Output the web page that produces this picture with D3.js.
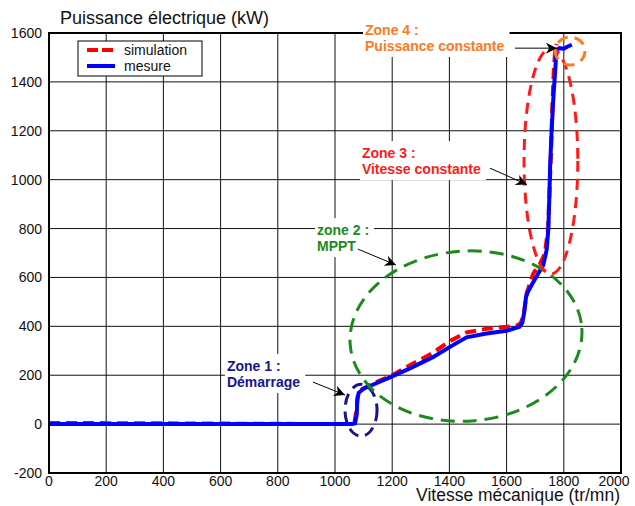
<html>
<head>
<script src="https://d3js.org/d3.v7.min.js"></script>
<style>
  body { margin: 0; background: #fff; }
  text { font-family: "Liberation Sans", Arial, sans-serif; }
</style>
</head>
<body>
<svg id="chart" width="635" height="506"></svg>
<script>
// speed (tr/mn) and power (kW)
var mesureSpeed = [0, 1060, 1070, 1076, 1078, 1083, 1100, 1130, 1198, 1262, 1344, 1402, 1460, 1530, 1600, 1645, 1655, 1662, 1668, 1676, 1693, 1710, 1728, 1740, 1746, 1750, 1752, 1757, 1763, 1770, 1775, 1785, 1800, 1812, 1828];
var mesurePower = [0, 0, 3, 40, 100, 128, 145, 160, 194, 228, 275, 316, 355, 371, 382, 398, 415, 460, 521, 545, 580, 615, 650, 712, 800, 950, 1052, 1189, 1325, 1450, 1530, 1538, 1536, 1544, 1552];
var simSpeed = [0, 1060, 1068, 1075, 1080, 1090, 1130, 1200, 1262, 1340, 1402, 1460, 1530, 1600, 1640, 1650, 1660, 1670, 1693, 1717, 1734, 1745, 1750, 1755, 1760, 1765, 1770, 1775];
var simPower = [5, 0, 5, 60, 120, 140, 165, 200, 241, 290, 340, 375, 390, 398, 405, 415, 450, 535, 616, 657, 698, 800, 950, 1100, 1300, 1450, 1530, 1555];

var xTicks = [0, 200, 400, 600, 800, 1000, 1200, 1400, 1600, 1800, 2000];
var yTicks = [-200, 0, 200, 400, 600, 800, 1000, 1200, 1400, 1600];

// zone annotations, in data units
var zoneNames = ["Zone 1 :", "zone 2 :", "Zone 3 :", "Zone 4 :"];
var zoneSub = ["Démarrage", "MPPT", "Vitesse constante", "Puissance constante"];
var zoneColor = ["#16168a", "#1d8a1d", "#ff1a1a", "#ff7a22"];
var zoneCx = [1091, 1458, 1755, 1822];
var zoneCy = [57, 360, 1076, 1526];
var zoneRx = [56, 406, 94, 52];
var zoneRy = [106, 348, 462, 57];
var zoneLabelX = [622, 937, 1094, 1105];
var zoneLabelY = [217, 773, 1088, 1592];
var arrowFrom = [[923, 172], [1080, 716], [1542, 1047], [1629, 1538]];
var arrowTo = [[1035, 119], [1213, 651], [1671, 980], [1776, 1538]];

var svg = d3.select("#chart");
var x = d3.scaleLinear().domain([0, 2000]).range([49, 621]);
var y = d3.scaleLinear().domain([-200, 1600]).range([473, 33]);

// grid
svg.append("g").selectAll("line").data(xTicks).enter().append("line")
  .attr("x1", d => x(d)).attr("x2", d => x(d))
  .attr("y1", y(-200)).attr("y2", y(1600))
  .attr("stroke", "#111").attr("stroke-width", 1);
svg.append("g").selectAll("line").data(yTicks).enter().append("line")
  .attr("x1", x(0)).attr("x2", x(2000))
  .attr("y1", d => y(d)).attr("y2", d => y(d))
  .attr("stroke", "#111").attr("stroke-width", 1);

// tick labels
svg.append("g").selectAll("text").data(xTicks).enter().append("text")
  .attr("x", d => Math.min(x(d), 614)).attr("y", 486)
  .attr("text-anchor", "middle").attr("font-size", 14).attr("fill", "#111")
  .text(d => d);
svg.append("g").selectAll("text").data(yTicks).enter().append("text")
  .attr("x", 42).attr("y", d => y(d) + 5)
  .attr("text-anchor", "end").attr("font-size", 14).attr("fill", "#111")
  .text(d => d);

// curves
var line = d3.line().x(d => x(d[0])).y(d => y(d[1]));
var simData = simSpeed.map((s, i) => [s, simPower[i]]);
var mesData = mesureSpeed.map((s, i) => [s, mesurePower[i]]);
svg.append("path").datum(simData).attr("d", line)
  .attr("fill", "none").attr("stroke", "#ff0000").attr("stroke-width", 4)
  .attr("stroke-dasharray", "11,6");
svg.append("path").datum(mesData).attr("d", line)
  .attr("fill", "none").attr("stroke", "#0000ff").attr("stroke-width", 4);

// frame
svg.append("rect").attr("x", x(0)).attr("y", y(1600))
  .attr("width", x(2000) - x(0)).attr("height", y(-200) - y(1600))
  .attr("fill", "none").attr("stroke", "#000").attr("stroke-width", 2);

// zone labels, white boxes hide grid and frame behind them
zoneNames.forEach(function(n, i) {
  var g = svg.append("g");
  var t = g.append("text").attr("font-size", 14).attr("font-weight", "bold")
    .attr("fill", zoneColor[i]);
  t.append("tspan").attr("x", x(zoneLabelX[i])).attr("y", y(zoneLabelY[i])).text(n);
  t.append("tspan").attr("x", x(zoneLabelX[i])).attr("y", y(zoneLabelY[i]) + 16).text(zoneSub[i]);
  var b = t.node().getBBox();
  g.insert("rect", "text").attr("x", b.x - 2).attr("y", b.y - 4)
    .attr("width", b.width + 7).attr("height", b.height + 7).attr("fill", "#fff");
});

// zone ellipses
zoneNames.forEach(function(n, i) {
  var cx = x(zoneCx[i]), cy = y(zoneCy[i]);
  svg.append("ellipse")
    .attr("cx", cx).attr("cy", cy)
    .attr("rx", x(zoneRx[i]) - x(0)).attr("ry", y(0) - y(zoneRy[i]))
    .attr("transform", i == 1 ? "rotate(-4," + cx + "," + cy + ")" : null)
    .attr("fill", "none").attr("stroke", zoneColor[i]).attr("stroke-width", 3)
    .attr("stroke-dasharray", i == 1 ? "14,8" : "11,7");
});

// arrows
svg.append("defs").append("marker").attr("id", "arr")
  .attr("viewBox", "0 0 10 10").attr("refX", 10).attr("refY", 5)
  .attr("markerWidth", 14).attr("markerHeight", 11).attr("markerUnits", "userSpaceOnUse")
  .attr("orient", "auto")
  .append("path").attr("d", "M0,0 L10,5 L0,10 L3,5 Z").attr("fill", "#000");
arrowFrom.forEach(function(a, i) {
  svg.append("line")
    .attr("x1", x(a[0])).attr("y1", y(a[1]))
    .attr("x2", x(arrowTo[i][0])).attr("y2", y(arrowTo[i][1]))
    .attr("stroke", "#000").attr("stroke-width", 1)
    .attr("marker-end", "url(#arr)");
});

// legend
var lg = svg.append("g");
lg.append("rect").attr("x", 78).attr("y", 41).attr("width", 124).attr("height", 35)
  .attr("fill", "#fff").attr("stroke", "#000").attr("stroke-width", 1);
lg.append("line").attr("x1", 87).attr("x2", 114).attr("y1", 50).attr("y2", 50)
  .attr("stroke", "#ff0000").attr("stroke-width", 4).attr("stroke-dasharray", "11,4");
lg.append("line").attr("x1", 87).attr("x2", 115).attr("y1", 66).attr("y2", 66)
  .attr("stroke", "#0000ff").attr("stroke-width", 4);
lg.append("text").attr("x", 124).attr("y", 55).attr("font-size", 14).attr("fill", "#111").text("simulation");
lg.append("text").attr("x", 124).attr("y", 71).attr("font-size", 14).attr("fill", "#111").text("mesure");

// axis titles
svg.append("text").attr("x", 60).attr("y", 24).attr("font-size", 18).attr("fill", "#111")
  .text("Puissance électrique (kW)");
svg.append("text").attr("x", 620).attr("y", 501).attr("text-anchor", "end")
  .attr("font-size", 17.5).attr("fill", "#111").text("Vitesse mécanique (tr/mn)");
</script>
</body>
</html>
